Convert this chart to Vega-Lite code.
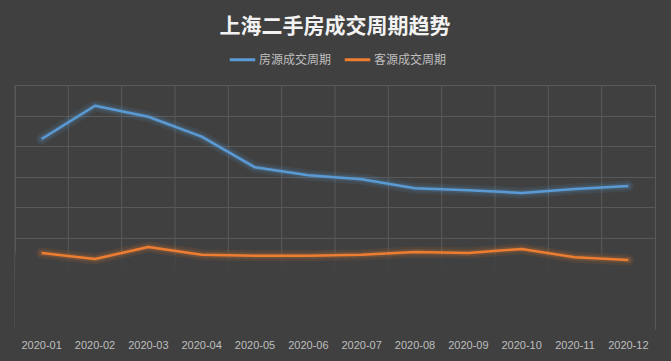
{
  "$schema": "https://vega.github.io/schema/vega-lite/v6.json",
  "width": 640,
  "height": 244,
  "autosize": {"type": "none"},
  "padding": {"left": 15, "top": 85, "right": 16, "bottom": 32},
  "background": "#404040",
  "title": {
    "text": "上海二手房成交周期趋势",
    "anchor": "middle",
    "frame": "group",
    "font": "Noto Sans CJK SC",
    "fontSize": 21,
    "fontWeight": "bold",
    "color": "#f2f2f2",
    "baseline": "middle",
    "offset": -3
  },
  "config": {
    "view": {"stroke": "#595959", "strokeWidth": 1}
  },
  "data": {
    "values": [
      {"month": "2020-01", "series": "房源成交周期", "days": 124.6},
      {"month": "2020-02", "series": "房源成交周期", "days": 146.4},
      {"month": "2020-03", "series": "房源成交周期", "days": 139.2},
      {"month": "2020-04", "series": "房源成交周期", "days": 126.1},
      {"month": "2020-05", "series": "房源成交周期", "days": 106.0},
      {"month": "2020-06", "series": "房源成交周期", "days": 100.8},
      {"month": "2020-07", "series": "房源成交周期", "days": 98.2},
      {"month": "2020-08", "series": "房源成交周期", "days": 92.3},
      {"month": "2020-09", "series": "房源成交周期", "days": 91.0},
      {"month": "2020-10", "series": "房源成交周期", "days": 89.2},
      {"month": "2020-11", "series": "房源成交周期", "days": 91.8},
      {"month": "2020-12", "series": "房源成交周期", "days": 93.8},
      {"month": "2020-01", "series": "客源成交周期", "days": 49.8},
      {"month": "2020-02", "series": "客源成交周期", "days": 45.9},
      {"month": "2020-03", "series": "客源成交周期", "days": 53.8},
      {"month": "2020-04", "series": "客源成交周期", "days": 48.7},
      {"month": "2020-05", "series": "客源成交周期", "days": 48.1},
      {"month": "2020-06", "series": "客源成交周期", "days": 48.1},
      {"month": "2020-07", "series": "客源成交周期", "days": 48.7},
      {"month": "2020-08", "series": "客源成交周期", "days": 50.5},
      {"month": "2020-09", "series": "客源成交周期", "days": 49.8},
      {"month": "2020-10", "series": "客源成交周期", "days": 52.5},
      {"month": "2020-11", "series": "客源成交周期", "days": 47.0},
      {"month": "2020-12", "series": "客源成交周期", "days": 45.2}
    ]
  },
  "layer": [
    {
      "mark": {"type": "rule", "color": "#595959", "strokeWidth": 1},
      "transform": [{"filter": "datum.series === '房源成交周期'"}],
      "encoding": {
        "x": {
          "field": "month",
          "type": "ordinal",
          "bandPosition": 0,
          "title": null,
          "scale": {"paddingInner": 0, "paddingOuter": 0},
          "axis": {
            "bandPosition": 0.5,
            "domain": false,
            "ticks": false,
            "grid": false,
            "labelAngle": 0,
            "labelColor": "#bfbfbf",
            "labelFont": "Liberation Sans",
            "labelFontSize": 11,
            "labelPadding": 10
          }
        }
      }
    },
    {
      "mark": {
        "type": "rect",
        "fill": {
          "gradient": "linear",
          "x1": 0, "y1": 0, "x2": 0, "y2": 1,
          "stops": [
            {"offset": 0, "color": "rgba(64,64,64,0)"},
            {"offset": 0.5, "color": "rgba(64,64,64,0.6)"},
            {"offset": 0.85, "color": "rgba(64,64,64,0.95)"},
            {"offset": 1, "color": "rgba(64,64,64,1)"}
          ]
        }
      },
      "encoding": {
        "y": {
          "datum": 52,
          "type": "quantitative",
          "title": null,
          "scale": {"domain": [0, 160], "nice": false},
          "axis": {
            "values": [0, 20, 40, 60, 80, 100, 120, 140, 160],
            "tickCount": 20,
            "labels": false,
            "ticks": false,
            "domain": false,
            "grid": true,
            "gridColor": "#595959",
            "gridWidth": 1,
            "title": null
          }
        },
        "y2": {"datum": -1.5}
      }
    },
    {
      "mark": {"type": "line", "strokeWidth": 11, "opacity": 0.1, "strokeCap": "round", "strokeJoin": "round"},
      "encoding": {
        "x": {"field": "month", "type": "ordinal"},
        "y": {"field": "days", "type": "quantitative", "title": null},
        "color": {
          "field": "series",
          "type": "nominal",
          "scale": {"domain": ["房源成交周期", "客源成交周期"], "range": ["#5b9bd5", "#ed7d31"]},
          "legend": {
            "title": null,
            "orient": "none",
            "direction": "horizontal",
            "legendX": 213,
            "legendY": -40,
            "symbolType": "stroke",
            "symbolStrokeWidth": 3,
            "symbolSize": 650,
            "symbolOpacity": 1,
            "labelColor": "#bfbfbf",
            "labelFont": "Noto Sans CJK SC",
            "labelFontSize": 12,
            "columnPadding": 6,
            "labelOffset": 2,
            "encode": {
              "symbols": {"update": {"opacity": {"value": 1}, "strokeOpacity": {"value": 1}}}
            }
          }
        }
      }
    },
    {
      "mark": {"type": "line", "strokeWidth": 6, "opacity": 0.18, "strokeCap": "round", "strokeJoin": "round"},
      "encoding": {
        "x": {"field": "month", "type": "ordinal"},
        "y": {"field": "days", "type": "quantitative", "title": null},
        "color": {"field": "series", "type": "nominal"}
      }
    },
    {
      "mark": {"type": "line", "strokeWidth": 2.5, "strokeJoin": "round"},
      "encoding": {
        "x": {"field": "month", "type": "ordinal"},
        "y": {"field": "days", "type": "quantitative", "title": null},
        "color": {"field": "series", "type": "nominal"}
      }
    }
  ]
}
